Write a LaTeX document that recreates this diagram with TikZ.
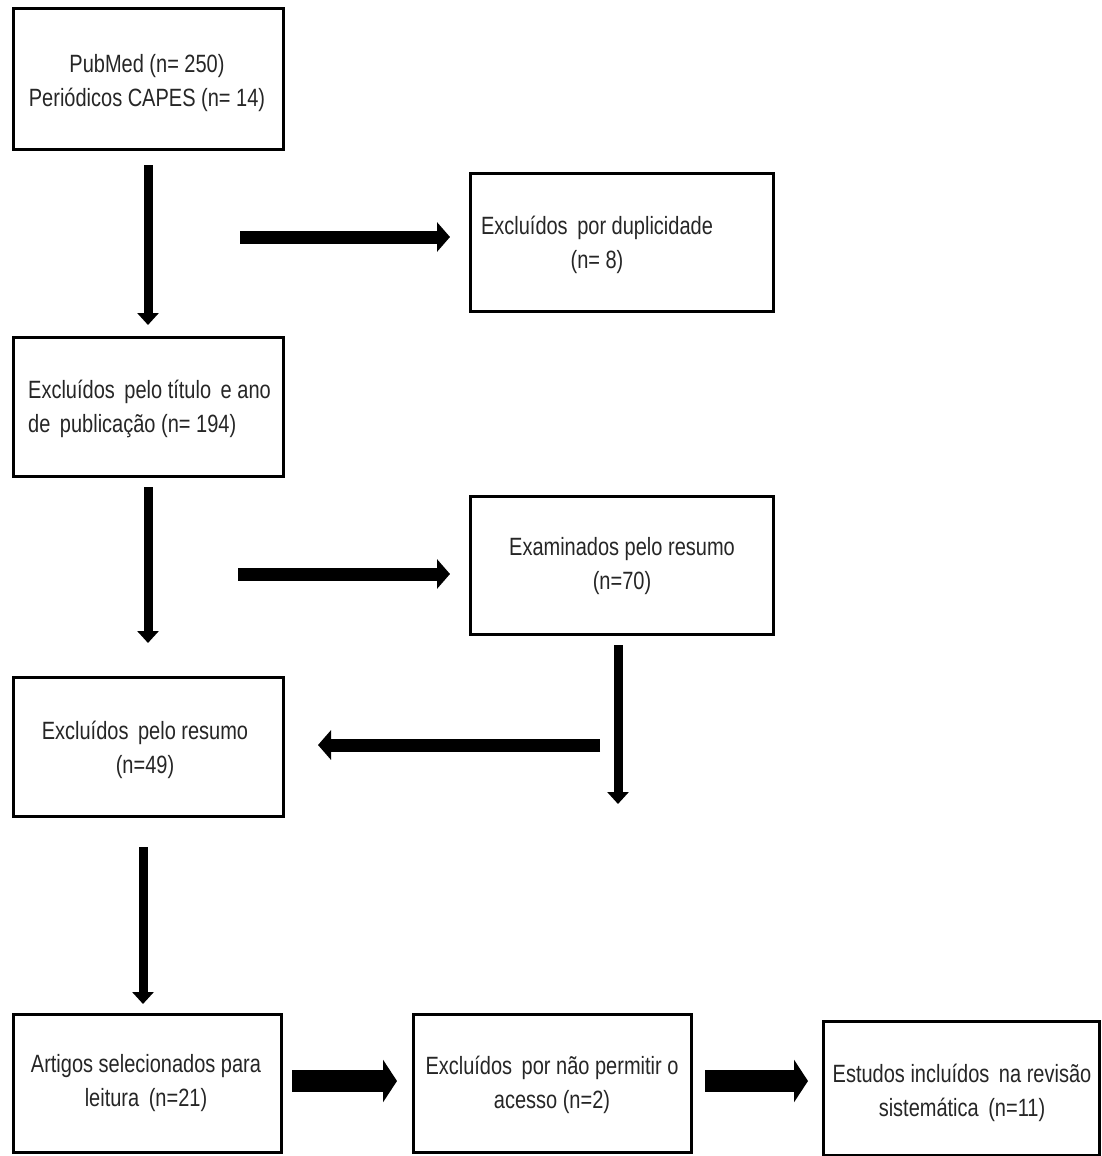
\documentclass[tikz,border=0pt]{standalone}
\usepackage{fontspec}
\setmainfont{Liberation Sans}[FakeStretch=0.80]
\usetikzlibrary{arrows.meta}
\newcommand{\xsp}{\kern4pt}
\begin{document}
\begin{tikzpicture}[x=1pt,y=-1pt,
  box/.style={draw=black, line width=3pt, inner sep=0pt},
  txt/.style={font=\fontsize{25}{34}\selectfont, align=center, inner sep=0pt, text=black!85},
  varrow/.style={line width=9pt, -{Triangle[length=12pt,width=21pt]}},
  harrow/.style={line width=13pt, -{Triangle[length=13pt,width=29pt]}},
  barrow/.style={line width=22pt, -{Triangle[length=14pt,width=42pt]}}]
\useasboundingbox[fill=white] (0,0) rectangle (1102,1156);
% boxes
\node[box, minimum width=270pt, minimum height=140pt] (b1) at (148,79) {};
\node[box, minimum width=303pt, minimum height=138pt] (b2) at (622,242) {};
\node[box, minimum width=270pt, minimum height=139pt] (b3) at (148,407) {};
\node[box, minimum width=303pt, minimum height=138pt] (b4) at (622,565) {};
\node[box, minimum width=270pt, minimum height=139pt] (b5) at (148,747) {};
\node[box, minimum width=268pt, minimum height=138pt] (b6) at (147,1083) {};
\node[box, minimum width=278pt, minimum height=138pt] (b7) at (552,1083) {};
\node[box, minimum width=276pt, minimum height=134pt] (b8) at (961,1088) {};
% texts
\node[txt] (t1) at (147,83) {PubMed (n= 250)\\Periódicos CAPES (n= 14)};
\node[txt] (t2) at (597,245) {Excluídos\xsp{} por duplicidade\\(n= 8)};
\node[txt, anchor=west, align=left] (t3) at (28,409) {Excluídos\xsp{} pelo título\xsp{} e ano\\de\xsp{} publicação (n= 194)};
\node[txt] (t4) at (622,566) {Examinados pelo resumo\\(n=70)};
\node[txt] (t5) at (145,750) {Excluídos\xsp{} pelo resumo\\(n=49)};
\node[txt] (t6) at (146,1083) {Artigos selecionados para\\leitura\xsp{} (n=21)};
\node[txt] (t7) at (552,1085) {Excluídos\xsp{} por não permitir o\\acesso (n=2)};
\node[txt] (t8) at (962,1093) {Estudos incluídos\xsp{} na revisão\\sistemática\xsp{} (n=11)};
% arrow end points
\coordinate (a1s) at (148,165); \coordinate (a1e) at (148,325);
\coordinate (h1s) at (240,237); \coordinate (h1e) at (450,237);
\coordinate (a2s) at (148,487); \coordinate (a2e) at (148,643);
\coordinate (h2s) at (238,574); \coordinate (h2e) at (450,574);
\coordinate (a3s) at (618,645); \coordinate (a3e) at (618,804);
\coordinate (h3s) at (600,745); \coordinate (h3e) at (318,745);
\coordinate (a4s) at (143,847); \coordinate (a4e) at (143,1004);
\coordinate (h4s) at (292,1081); \coordinate (h4e) at (397,1081);
\coordinate (h5s) at (705,1081); \coordinate (h5e) at (808,1081);
% arrows
\draw[varrow] (a1s) -- (a1e);
\draw[harrow] (h1s) -- (h1e);
\draw[varrow] (a2s) -- (a2e);
\draw[harrow] (h2s) -- (h2e);
\draw[varrow] (a3s) -- (a3e);
\draw[harrow] (h3s) -- (h3e);
\draw[varrow] (a4s) -- (a4e);
\draw[barrow] (h4s) -- (h4e);
\draw[barrow] (h5s) -- (h5e);
\end{tikzpicture}
\end{document}
